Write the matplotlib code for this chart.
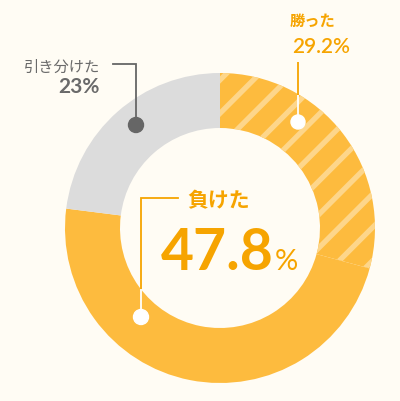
import matplotlib
matplotlib.use("Agg")
import matplotlib.pyplot as plt
from matplotlib.patches import Circle

plt.rcParams['font.family'] = ['Noto Sans CJK JP', 'DejaVu Sans']
plt.rcParams['hatch.linewidth'] = 3.8

labels = ["勝った", "負けた", "引き分けた"]
values = [29.2, 47.8, 23.0]
value_texts = ["29.2%", "47.8", "23%"]
colors = ["#FDBB3E", "#FDBB3E", "#DCDCDC"]
hatches = ["/", "", ""]

BG = "#FFFCF4"
ORANGE_TXT = "#F6A400"
GRAY_TXT = "#6A6A6A"
NUM_FONT = ['Lato', 'DejaVu Sans']

W, H = 400, 402
fig = plt.figure(figsize=(W / 100, H / 100), dpi=100, facecolor=BG)
ax = fig.add_axes([0, 0, 1, 1])

cx, cy = 220, H - 229
R, width = 155, 55
wedges, _ = ax.pie(values, center=(cx, cy), radius=R, startangle=90, counterclock=False,
                   colors=colors, wedgeprops=dict(width=width, linewidth=0), frame=True)
for w, h in zip(wedges, hatches):
    if h:
        w.set_hatch(h)
        w.set_edgecolor("#FDD68B")
        w.set_linewidth(0)
ax.set_xlim(0, W)
ax.set_ylim(0, H)
ax.set_aspect('equal')
ax.axis('off')

def Y(y):
    return H - y

# 勝った annotation
ax.plot([298, 298], [Y(63), Y(96)], color=ORANGE_TXT, lw=1.3, solid_capstyle='butt')
ax.plot([298, 298], [Y(96), Y(122)], color="white", lw=1.3, solid_capstyle='butt')
ax.add_patch(Circle((298, Y(123)), 7, color="white", zorder=5))
ax.text(290, Y(21), labels[0], color=ORANGE_TXT, fontsize=11, fontweight='bold', ha='left', va='center')
ax.text(292, Y(47), value_texts[0], color=ORANGE_TXT, fontsize=15, family=NUM_FONT,
        fontweight='semibold', ha='left', va='center')

# 引き分けた annotation
ax.plot([113, 136, 136], [Y(65), Y(65), Y(126)], color="#666666", lw=1.3, solid_joinstyle='miter')
ax.add_patch(Circle((136, Y(126)), 7.5, color="#666666", zorder=5))
ax.text(100, Y(67), labels[2], color=GRAY_TXT, fontsize=11, ha='right', va='center')
ax.text(100, Y(87), value_texts[2], color=GRAY_TXT, fontsize=15, family=NUM_FONT,
        fontweight='bold', ha='right', va='center')

# 負けた annotation
ax.plot([178, 141, 141], [Y(199), Y(199), Y(290)], color=ORANGE_TXT, lw=1.3, solid_joinstyle='miter')
ax.plot([141, 141], [Y(290), Y(316)], color="white", lw=1.3, solid_capstyle='butt')
ax.add_patch(Circle((141, Y(318)), 7.5, color="white", zorder=5))
ax.text(187, Y(201), labels[1], color=ORANGE_TXT, fontsize=15, fontweight='bold', ha='left', va='center')
big = ax.text(161, Y(270), value_texts[1], color=ORANGE_TXT, fontsize=41, family=NUM_FONT,
              fontweight='bold', ha='left', va='baseline')
fig.canvas.draw()
bb = big.get_window_extent()
ax.text(bb.x1 + 1, Y(270), "%", color=ORANGE_TXT, fontsize=21, family=NUM_FONT,
        ha='left', va='baseline')

fig.savefig("out.png", dpi=100, facecolor=BG)
